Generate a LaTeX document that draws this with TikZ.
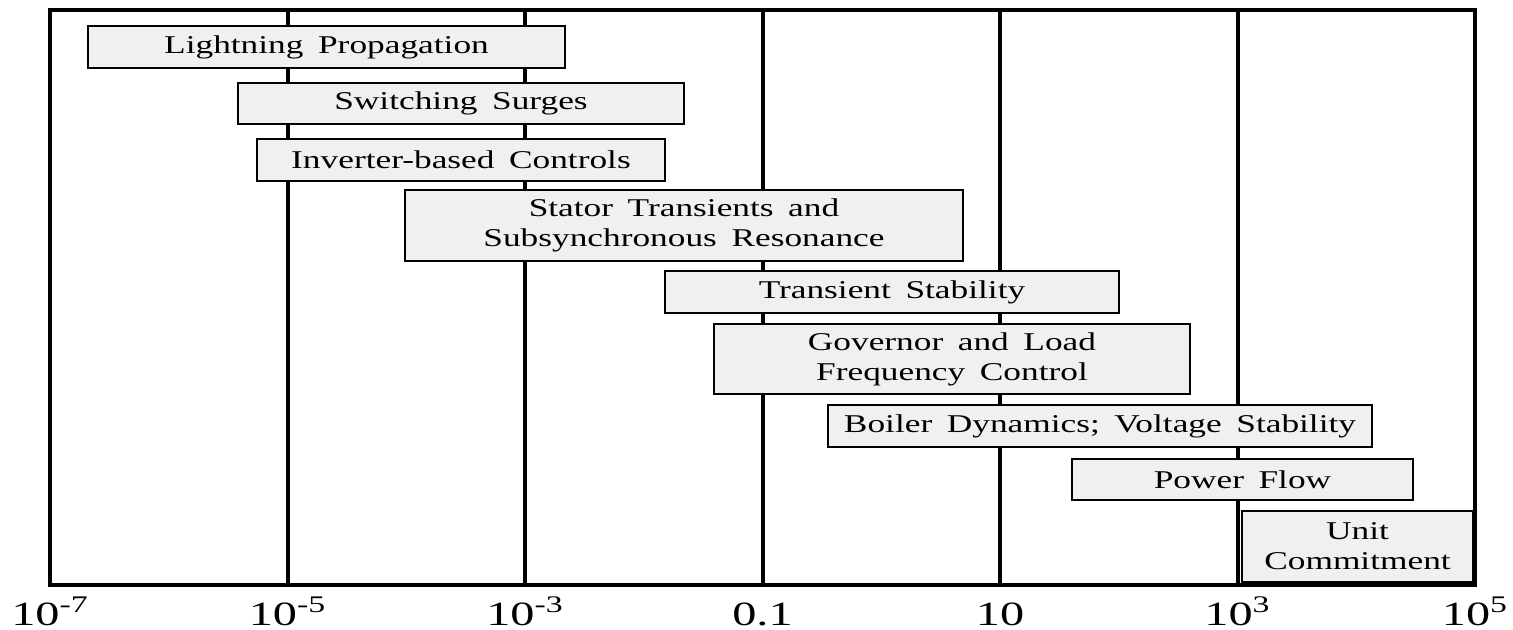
\documentclass[tikz,border=0pt]{standalone}
\usepackage{fontspec}
\setmainfont{Liberation Serif}
\newfontfamily\boxfont[FakeStretch=1.38, WordSpace=1.65]{Liberation Serif}
\newfontfamily\tickfont[FakeStretch=1.42]{Liberation Serif}
\definecolor{bandfill}{HTML}{F0F0F0}
\begin{document}
\begin{tikzpicture}[x=0.5pt,y=-0.5pt,
  band/.style={draw=black, line width=1.1pt, fill=bandfill, inner sep=0pt,
    align=center, font=\boxfont\fontsize{12.8pt}{15pt}\selectfont},
  axisline/.style={line width=2pt},
  ticklabel/.style={inner sep=0pt, anchor=base,
    font=\tickfont\fontsize{17pt}{20pt}\selectfont}]
\useasboundingbox (0,0) rectangle (1513,630);

% decade grid lines (every two decades) and frame
\foreach \k in {2,4,6,8,10}
  \draw[axisline] ({50+118.75*\k},10) -- ({50+118.75*\k},585);
\draw[axisline, line join=miter] (50,10) rectangle (1475,585);

% time-scale bands
\node[band, minimum width=238.5pt, minimum height=21pt] (lp) at (326.5,47) {Lightning Propagation};
\node[band, minimum width=223pt, minimum height=20.5pt] (ss) at (461,103.5) {Switching Surges};
\node[band, minimum width=204pt, minimum height=21pt] (ibc) at (461,160) {Inverter-based Controls};
\node[band, minimum width=279pt, minimum height=35.5pt] (st) at (684,225.5) {Stator Transients and\\Subsynchronous Resonance};
\node[band, minimum width=227pt, minimum height=21pt] (ts) at (892,292) {Transient Stability};
\node[band, minimum width=238pt, minimum height=35pt] (gov) at (952,359) {Governor and Load\\Frequency Control};
\node[band, minimum width=272pt, minimum height=21pt] (bd) at (1100,426) {Boiler Dynamics; Voltage Stability};
\node[band, minimum width=170.5pt, minimum height=20.5pt] (pf) at (1242.5,479.5) {Power Flow};
\node[band, minimum width=115.5pt, minimum height=35.5pt] (uc) at (1357.5,546.5) {Unit\\Commitment};

% axis labels
\node[ticklabel] (t0) at (50,625) {10\textsuperscript{-7}};
\node[ticklabel] (t1) at (287.5,625) {10\textsuperscript{-5}};
\node[ticklabel] (t2) at (525,625) {10\textsuperscript{-3}};
\node[ticklabel] (t3) at (762.5,625) {0.1};
\node[ticklabel] (t4) at (1000,625) {10};
\node[ticklabel] (t5) at (1237.5,625) {10\textsuperscript{3}};
\node[ticklabel] (t6) at (1475,625) {10\textsuperscript{5}};
\end{tikzpicture}
\end{document}
